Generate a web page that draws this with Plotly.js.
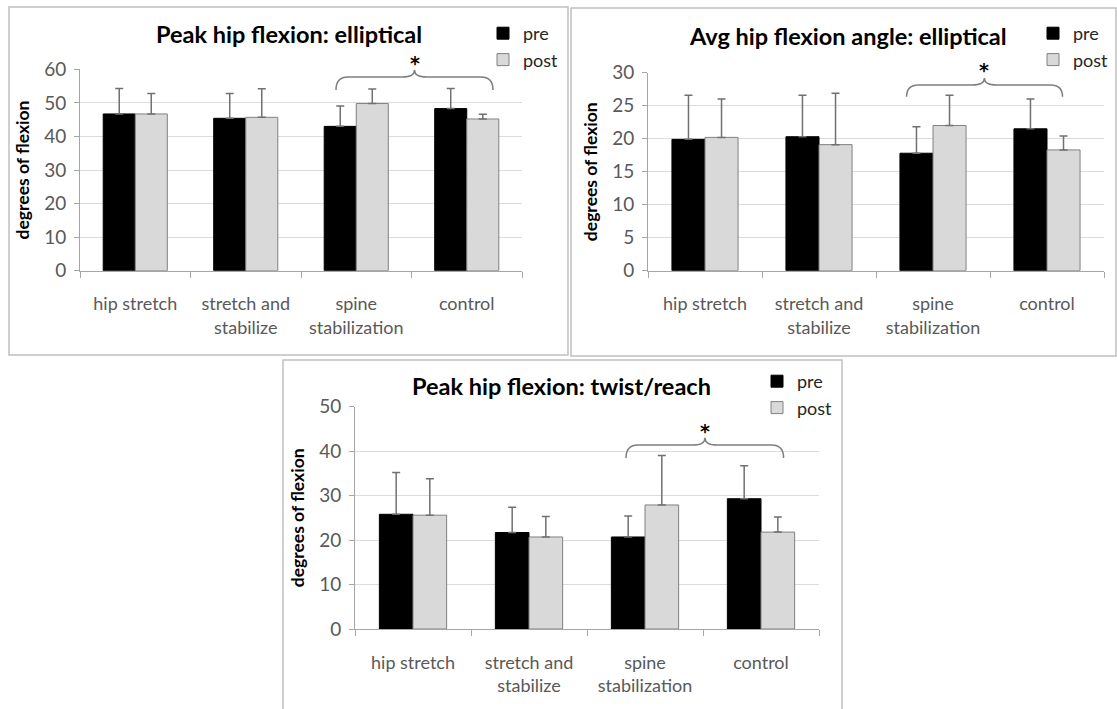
<!DOCTYPE html>
<html>
<head>
<meta charset="utf-8">
<script src="https://cdn.plot.ly/plotly-3.0.1.min.js"></script>
<style>
  html, body { margin: 0; padding: 0; background: #ffffff; }
  #chart { width: 1117px; height: 709px; }
</style>
</head>
<body>
<div id="chart"></div>
<script>
// ---------------- data ----------------
const categories = ["hip stretch", "stretch and<br>stabilize", "spine<br>stabilization", "control"];
const seriesNames = ["pre", "post"];

// Peak hip flexion: elliptical
const peakEllPre      = [46.7, 45.4, 43.0, 48.3];
const peakEllPreSD    = [7.6, 7.4, 6.1, 6.0];
const peakEllPost     = [46.7, 45.7, 49.8, 45.2];
const peakEllPostSD   = [6.1, 8.5, 4.3, 1.4];

// Avg hip flexion angle: elliptical
const avgEllPre       = [19.9, 20.3, 17.8, 21.5];
const avgEllPreSD     = [6.7, 6.3, 4.0, 4.5];
const avgEllPost      = [20.2, 19.1, 22.0, 18.3];
const avgEllPostSD    = [5.8, 7.8, 4.6, 2.1];

// Peak hip flexion: twist/reach
const peakTwPre       = [25.8, 21.7, 20.7, 29.3];
const peakTwPreSD     = [9.4, 5.7, 4.7, 7.4];
const peakTwPost      = [25.6, 20.7, 27.9, 21.8];
const peakTwPostSD    = [8.2, 4.6, 11.1, 3.4];

const titles = ["Peak hip flexion: elliptical", "Avg hip flexion angle: elliptical", "Peak hip flexion: twist/reach"];
const yTitle = "degrees of flexion";
const yRanges = [[0, 60], [0, 30], [0, 50]];
const yDticks = [10, 5, 10];

// ---------------- layout helpers ----------------
const W = 1117, H = 709;
const px = x => x / W;
const py = y => 1 - y / H;
const FONT = "Lato, 'Open Sans', sans-serif";
const TICKC = "#595959";
const preColor = "#000000";
const postColor = "#d9d9d9";

// plot-area boxes (pixels): [left, right, top, bottom]
const boxes = [
  [80, 522, 69.3, 270.7],
  [648, 1104, 72.7, 270.7],
  [355, 819, 406.7, 629]
];

const data = [
  [peakEllPre, peakEllPreSD, peakEllPost, peakEllPostSD],
  [avgEllPre, avgEllPreSD, avgEllPost, avgEllPostSD],
  [peakTwPre, peakTwPreSD, peakTwPost, peakTwPostSD]
];

const traces = [];
data.forEach((d, i) => {
  const ax = i === 0 ? "" : String(i + 1);
  const lg = i === 0 ? "legend" : "legend" + (i + 1);
  [[d[0], d[1], preColor, "#000000"], [d[2], d[3], postColor, "#808080"]].forEach((s, j) => {
    traces.push({
      type: "bar",
      name: seriesNames[j],
      x: categories,
      y: s[0],
      xaxis: "x" + ax,
      yaxis: "y" + ax,
      legend: lg,
      legendgroup: "g" + i + j,
      marker: { color: s[2], line: { color: s[3], width: 1 } },
      error_y: {
        type: "data", symmetric: false, array: s[1],
        arrayminus: s[1].map(() => 0),
        color: "#707070", thickness: 1.5, width: 4
      },
      hoverinfo: "skip"
    });
  });
});

const layout = {
  width: W, height: H,
  margin: { l: 0, r: 0, t: 0, b: 0 },
  paper_bgcolor: "#ffffff",
  plot_bgcolor: "rgba(0,0,0,0)",
  barmode: "group",
  bargap: 0.42,
  bargroupgap: 0,
  font: { family: FONT, color: TICKC, size: 18 },
  showlegend: true,
  annotations: [],
  shapes: []
};

boxes.forEach((b, i) => {
  const ax = i === 0 ? "" : String(i + 1);
  layout["xaxis" + ax] = {
    domain: [px(b[0]), px(b[1])],
    anchor: "y" + ax,
    type: "category",
    showgrid: false,
    showline: true, linecolor: "#a6a6a6", linewidth: 1,
    ticks: "outside", tickson: "boundaries", ticklen: 6, tickcolor: "#a6a6a6",
    tickfont: { family: FONT, size: 18, color: TICKC },
    ticklabelstandoff: 17,
    fixedrange: true
  };
  layout["yaxis" + ax] = {
    domain: [py(b[3]), py(b[2])],
    anchor: "x" + ax,
    range: yRanges[i],
    dtick: yDticks[i],
    showgrid: true, gridcolor: "#dcdcdc", gridwidth: 1,
    zeroline: false,
    showline: true, linecolor: "#a6a6a6", linewidth: 1,
    ticks: "outside", ticklen: 5, tickcolor: "#a6a6a6",
    tickfont: { family: FONT, size: 19, color: TICKC },
    ticklabelstandoff: 4,
    title: { text: yTitle, font: { family: FONT, size: 17.5, color: "#000000", weight: "bold" }, standoff: 10 },
    fixedrange: true
  };
});

// legends: [iconCenterX, firstItemY, secondItemY]
const legendPos = [[503, 32, 67.5], [1053, 32, 69], [777, 380, 412]];
legendPos.forEach((p, i) => {
  const key = i === 0 ? "legend" : "legend" + (i + 1);
  layout[key] = {
    x: px(p[0] - 20), y: py(p[1] - 17), xanchor: "left", yanchor: "top",
    bgcolor: "rgba(0,0,0,0)",
    font: { family: FONT, size: 18, color: "#262626" },
    tracegroupgap: (p[2] - p[1]) - 23.5,
    itemwidth: 30,
    traceorder: "normal"
  };
});

// titles
const titlePos = [[289, 34], [848, 36], [561, 386]];
titlePos.forEach((t, i) => {
  layout.annotations.push({
    xref: "paper", yref: "paper", x: px(t[0]), y: py(t[1]),
    xanchor: "center", yanchor: "middle", showarrow: false,
    text: "<b>" + titles[i] + "</b>",
    font: { family: FONT, size: 23.5, color: "#000000" }
  });
});

// significance braces: [left, right, bottom, mid, tipX, tipY, starBoxY]
const braces = [
  [336, 493, 90, 77, 414.5, 70, 63],
  [906.6, 1062.5, 96.7, 85, 984.4, 78, 70],
  [626, 783.6, 458, 445, 705, 437.7, 431]
];
braces.forEach(b => {
  const [l, r, bot, mid, tx, ty, sy] = b;
  const rr = 12;
  const pts = [
    "M", px(l), py(bot),
    "Q", px(l), py(mid), px(l + rr), py(mid),
    "L", px(tx - rr), py(mid),
    "Q", px(tx), py(mid), px(tx), py(ty),
    "Q", px(tx), py(mid), px(tx + rr), py(mid),
    "L", px(r - rr), py(mid),
    "Q", px(r), py(mid), px(r), py(bot)
  ];
  layout.shapes.push({
    type: "path", xref: "paper", yref: "paper",
    path: pts.map(v => typeof v === "number" ? v.toFixed(5) : v).join(" ").replace(/(\d) (-?\d)/g, "$1,$2"),
    line: { color: "#7f7f7f", width: 1.5 }
  });
  layout.annotations.push({
    xref: "paper", yref: "paper", x: px(tx), y: py(sy),
    xanchor: "center", yanchor: "middle", showarrow: false,
    text: "<b>*</b>", font: { family: "'DejaVu Sans', sans-serif", size: 19, color: "#000000" }
  });
});

// panel frames
const frames = [[9, 568, 7, 355], [571, 1116, 8, 356], [283, 842, 360, 712]];
frames.forEach(f => {
  layout.shapes.push({
    type: "rect", xref: "paper", yref: "paper",
    x0: px(f[0]), x1: px(f[1]), y0: py(f[3]), y1: py(f[2]),
    line: { color: "#c0c0c0", width: 1.5 }, fillcolor: "rgba(0,0,0,0)", layer: "below"
  });
});

Plotly.newPlot("chart", traces, layout, { displayModeBar: false, staticPlot: true });
</script>
</body>
</html>
